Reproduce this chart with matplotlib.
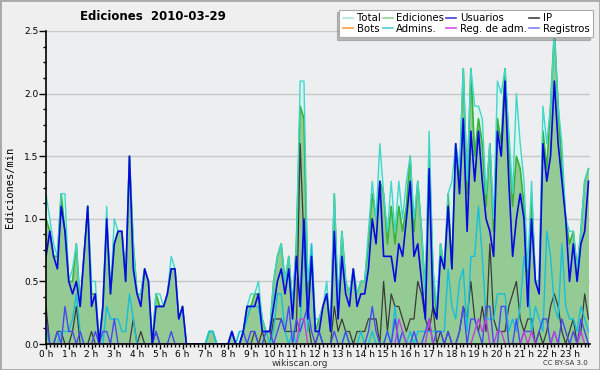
import numpy as np
import matplotlib
matplotlib.use("Agg")
import matplotlib.pyplot as plt
from matplotlib.lines import Line2D
from matplotlib.patches import Rectangle
from matplotlib.ticker import MultipleLocator, FormatStrFormatter

# edits per minute, one value per 10 minutes (6 per hour)
hour_labels = [f"{h} h" for h in range(24)]

total = [
    1.2, 1.0, 0.8, 0.7, 1.2, 1.2,  0.5, 0.6, 0.8, 0.3, 0.7, 1.1,
    0.5, 0.5, 0.0, 0.3, 1.1, 0.4,  1.0, 0.9, 0.9, 0.5, 1.5, 0.8,
    0.4, 0.4, 0.6, 0.5, 0.0, 0.4,  0.4, 0.3, 0.4, 0.7, 0.6, 0.2,
    0.3, 0.0, 0.0, 0.0, 0.0, 0.0,  0.0, 0.1, 0.1, 0.0, 0.0, 0.0,
    0.0, 0.1, 0.0, 0.1, 0.1, 0.3,  0.4, 0.4, 0.5, 0.2, 0.1, 0.1,
    0.5, 0.7, 0.8, 0.5, 0.7, 0.3,  0.8, 2.1, 2.1, 0.5, 0.8, 0.2,
    0.2, 0.3, 0.5, 0.1, 1.2, 0.3,  0.9, 0.5, 0.4, 0.6, 0.4, 0.5,
    0.5, 0.9, 1.3, 1.0, 1.6, 1.2,  0.9, 1.3, 0.9, 1.3, 1.0, 1.3,
    1.5, 1.0, 1.3, 0.9, 0.4, 1.7,  0.6, 0.3, 0.8, 0.6, 1.2, 1.3,
    1.6, 1.4, 2.2, 1.3, 2.2, 1.9,  1.9, 1.8, 1.2, 1.6, 1.0, 2.1,
    2.0, 2.2, 1.7, 1.2, 2.0, 1.6,  1.3, 0.6, 1.3, 0.5, 0.5, 1.9,
    1.6, 1.9, 2.5, 1.9, 1.6, 1.0,  0.9, 0.9, 0.6, 0.9, 1.3, 1.4,
]

ediciones = [
    1.0, 0.9, 0.7, 0.7, 1.2, 0.9,  0.5, 0.5, 0.8, 0.3, 0.7, 1.1,
    0.4, 0.4, 0.0, 0.3, 1.0, 0.4,  0.8, 0.9, 0.9, 0.5, 1.5, 0.8,
    0.4, 0.4, 0.6, 0.5, 0.0, 0.4,  0.3, 0.3, 0.4, 0.6, 0.6, 0.2,
    0.3, 0.0, 0.0, 0.0, 0.0, 0.0,  0.0, 0.1, 0.1, 0.0, 0.0, 0.0,
    0.0, 0.1, 0.0, 0.0, 0.1, 0.3,  0.3, 0.4, 0.4, 0.2, 0.1, 0.1,
    0.5, 0.7, 0.8, 0.5, 0.7, 0.3,  0.8, 1.9, 1.8, 0.4, 0.7, 0.1,
    0.2, 0.3, 0.4, 0.1, 1.2, 0.3,  0.9, 0.5, 0.4, 0.6, 0.4, 0.5,
    0.5, 0.8, 1.2, 1.0, 1.3, 1.2,  0.8, 1.1, 0.8, 1.1, 0.9, 1.1,
    1.5, 0.9, 1.3, 0.9, 0.4, 1.5,  0.6, 0.2, 0.8, 0.6, 1.2, 0.6,
    1.6, 1.3, 2.2, 1.2, 2.2, 1.5,  1.8, 1.6, 1.1, 1.6, 0.9, 1.8,
    1.6, 2.2, 1.6, 1.1, 1.5, 1.4,  1.1, 0.5, 1.2, 0.5, 0.5, 1.7,
    1.4, 1.9, 2.5, 1.9, 1.4, 1.0,  0.8, 0.9, 0.6, 0.9, 1.3, 1.4,
]

usuarios = [
    0.7, 0.9, 0.7, 0.6, 1.1, 0.9,  0.5, 0.4, 0.5, 0.3, 0.7, 1.1,
    0.3, 0.4, 0.0, 0.3, 1.0, 0.4,  0.8, 0.9, 0.9, 0.5, 1.5, 0.6,
    0.4, 0.3, 0.6, 0.5, 0.0, 0.3,  0.3, 0.3, 0.4, 0.6, 0.6, 0.2,
    0.3, 0.0, 0.0, 0.0, 0.0, 0.0,  0.0, 0.0, 0.0, 0.0, 0.0, 0.0,
    0.0, 0.1, 0.0, 0.0, 0.1, 0.3,  0.3, 0.3, 0.4, 0.1, 0.1, 0.1,
    0.3, 0.5, 0.6, 0.4, 0.6, 0.2,  0.7, 0.3, 1.0, 0.2, 0.7, 0.1,
    0.1, 0.3, 0.4, 0.1, 0.9, 0.2,  0.7, 0.4, 0.3, 0.6, 0.3, 0.4,
    0.4, 0.6, 1.0, 0.8, 1.3, 0.7,  0.7, 0.7, 0.5, 0.8, 0.7, 1.0,
    1.3, 0.7, 0.8, 0.5, 0.2, 1.4,  0.3, 0.2, 0.7, 0.6, 1.1, 0.6,
    1.6, 1.2, 1.8, 0.9, 1.7, 1.3,  1.7, 1.3, 1.0, 0.9, 0.7, 1.7,
    1.5, 2.1, 1.3, 0.7, 1.0, 1.2,  1.0, 0.3, 1.0, 0.5, 0.4, 1.6,
    1.3, 1.5, 2.1, 1.6, 1.3, 1.0,  0.5, 0.8, 0.5, 0.8, 0.9, 1.3,
]

ip = [
    0.3, 0.0, 0.0, 0.1, 0.1, 0.0,  0.0, 0.1, 0.3, 0.0, 0.0, 0.0,
    0.1, 0.0, 0.0, 0.0, 0.0, 0.0,  0.0, 0.0, 0.0, 0.0, 0.0, 0.2,
    0.0, 0.1, 0.0, 0.0, 0.0, 0.1,  0.0, 0.0, 0.0, 0.0, 0.0, 0.0,
    0.0, 0.0, 0.0, 0.0, 0.0, 0.0,  0.0, 0.0, 0.0, 0.0, 0.0, 0.0,
    0.0, 0.0, 0.0, 0.0, 0.0, 0.0,  0.0, 0.1, 0.0, 0.1, 0.0, 0.0,
    0.2, 0.2, 0.2, 0.1, 0.1, 0.1,  0.1, 1.6, 0.8, 0.2, 0.0, 0.0,
    0.1, 0.0, 0.0, 0.0, 0.3, 0.1,  0.2, 0.1, 0.1, 0.0, 0.1, 0.1,
    0.1, 0.2, 0.2, 0.2, 0.0, 0.5,  0.1, 0.4, 0.3, 0.3, 0.2, 0.1,
    0.2, 0.2, 0.5, 0.4, 0.2, 0.1,  0.3, 0.0, 0.1, 0.0, 0.1, 0.0,
    0.0, 0.1, 0.3, 0.2, 0.5, 0.2,  0.1, 0.3, 0.1, 0.8, 0.2, 0.1,
    0.1, 0.1, 0.3, 0.4, 0.5, 0.2,  0.1, 0.2, 0.2, 0.0, 0.1, 0.0,
    0.1, 0.3, 0.4, 0.3, 0.1, 0.0,  0.1, 0.2, 0.0, 0.1, 0.4, 0.2,
]

admins = [
    0.1, 0.0, 0.0, 0.0, 0.1, 0.1,  0.1, 0.2, 0.4, 0.1, 0.0, 0.0,
    0.0, 0.0, 0.0, 0.0, 0.3, 0.2,  0.2, 0.2, 0.1, 0.1, 0.4, 0.2,
    0.0, 0.0, 0.0, 0.0, 0.0, 0.0,  0.0, 0.0, 0.0, 0.0, 0.0, 0.0,
    0.0, 0.0, 0.0, 0.0, 0.0, 0.0,  0.0, 0.1, 0.1, 0.0, 0.0, 0.0,
    0.0, 0.0, 0.0, 0.1, 0.1, 0.2,  0.3, 0.3, 0.3, 0.1, 0.1, 0.0,
    0.1, 0.4, 0.4, 0.1, 0.0, 0.1,  0.0, 0.1, 1.0, 0.1, 0.8, 0.1,
    0.1, 0.0, 0.0, 0.0, 0.0, 0.0,  0.0, 0.1, 0.0, 0.0, 0.0, 0.1,
    0.0, 0.0, 0.1, 0.0, 0.0, 0.0,  0.1, 0.0, 0.3, 0.0, 0.1, 0.0,
    0.1, 0.0, 0.1, 0.1, 0.1, 0.1,  0.1, 0.1, 0.1, 0.1, 0.6, 0.3,
    0.2, 0.5, 0.6, 0.1, 0.7, 0.7,  1.1, 0.7, 0.2, 0.2, 0.2, 0.4,
    0.4, 0.4, 0.1, 0.2, 0.1, 0.3,  0.7, 0.5, 0.1, 0.3, 0.2, 0.1,
    0.9, 0.7, 0.3, 0.2, 0.8, 0.3,  0.2, 0.2, 0.1, 0.3, 0.2, 0.1,
]

registros = [
    0.2, 0.0, 0.0, 0.1, 0.0, 0.3,  0.1, 0.1, 0.0, 0.1, 0.0, 0.0,
    0.0, 0.1, 0.0, 0.1, 0.1, 0.0,  0.2, 0.0, 0.0, 0.0, 0.0, 0.0,
    0.0, 0.0, 0.0, 0.0, 0.0, 0.1,  0.0, 0.0, 0.0, 0.1, 0.0, 0.0,
    0.0, 0.0, 0.0, 0.0, 0.0, 0.0,  0.0, 0.0, 0.0, 0.0, 0.0, 0.0,
    0.0, 0.1, 0.0, 0.0, 0.1, 0.0,  0.1, 0.1, 0.0, 0.0, 0.1, 0.1,
    0.0, 0.1, 0.2, 0.1, 0.3, 0.0,  0.2, 0.1, 0.2, 0.3, 0.1, 0.0,
    0.1, 0.0, 0.0, 0.0, 0.1, 0.0,  0.0, 0.1, 0.0, 0.0, 0.0, 0.0,
    0.0, 0.1, 0.3, 0.1, 0.0, 0.0,  0.1, 0.0, 0.2, 0.0, 0.1, 0.0,
    0.0, 0.1, 0.0, 0.0, 0.1, 0.2,  0.0, 0.1, 0.1, 0.0, 0.1, 0.0,
    0.0, 0.1, 0.3, 0.0, 0.2, 0.2,  0.1, 0.0, 0.3, 0.3, 0.0, 0.0,
    0.3, 0.3, 0.0, 0.0, 0.2, 0.0,  0.1, 0.1, 0.1, 0.0, 0.1, 0.2,
    0.2, 0.0, 0.1, 0.0, 0.2, 0.1,  0.0, 0.1, 0.0, 0.2, 0.1, 0.0,
]

reg_adm = [
    0.0, 0.0, 0.0, 0.0, 0.0, 0.0,  0.0, 0.0, 0.0, 0.0, 0.0, 0.0,
    0.0, 0.0, 0.0, 0.0, 0.0, 0.0,  0.0, 0.0, 0.0, 0.0, 0.0, 0.0,
    0.0, 0.0, 0.0, 0.0, 0.0, 0.0,  0.0, 0.0, 0.0, 0.0, 0.0, 0.0,
    0.0, 0.0, 0.0, 0.0, 0.0, 0.0,  0.0, 0.0, 0.0, 0.0, 0.0, 0.0,
    0.0, 0.0, 0.0, 0.0, 0.0, 0.0,  0.0, 0.0, 0.0, 0.0, 0.0, 0.0,
    0.0, 0.0, 0.0, 0.0, 0.0, 0.0,  0.0, 0.2, 0.2, 0.0, 0.0, 0.0,
    0.0, 0.0, 0.0, 0.0, 0.0, 0.0,  0.0, 0.0, 0.0, 0.0, 0.0, 0.0,
    0.0, 0.0, 0.0, 0.0, 0.0, 0.0,  0.0, 0.0, 0.0, 0.2, 0.1, 0.0,
    0.0, 0.0, 0.0, 0.0, 0.0, 0.2,  0.0, 0.0, 0.0, 0.0, 0.0, 0.0,
    0.0, 0.0, 0.0, 0.0, 0.0, 0.1,  0.2, 0.1, 0.2, 0.0, 0.0, 0.1,
    0.1, 0.0, 0.0, 0.0, 0.0, 0.0,  0.1, 0.0, 0.1, 0.0, 0.0, 0.0,
    0.0, 0.0, 0.1, 0.0, 0.0, 0.0,  0.0, 0.0, 0.0, 0.1, 0.0, 0.0,
]

# no bot edits that day
bots = [0.0] * 144

t = np.arange(len(total)) / 6.0

fig = plt.figure(figsize=(6, 3.7), dpi=100, facecolor="#efefef")
ax = fig.add_axes([46 / 600, 26 / 370, 544 / 600, 313 / 370])
ax.set_facecolor("#eceef0")

ax.fill_between(t, total, color="#d9f5ee", lw=0)
ax.fill_between(t, ediciones, color="#94cb94", lw=0)
ax.plot(t, ediciones, color="#36b236", lw=1.2)
ax.plot(t, total, color="#40d6cc", lw=1.0)
ax.plot(t, bots, color="#ff9a30", lw=0.9)
ax.plot(t, ip, color="#3a3a3a", lw=0.9)
ax.plot(t, admins, color="#14c0dc", lw=1.0)
ax.plot(t, registros, color="#4848f2", lw=1.0)
ax.plot(t, reg_adm, color="#c040e0", lw=1.0)
ax.plot(t, usuarios, color="#0808e0", lw=1.2)

ax.set_xlim(0, 23.9)
ax.set_ylim(0, 2.5)
ax.set_xticks(range(24))
ax.set_xticklabels(hour_labels)
ax.xaxis.set_minor_locator(MultipleLocator(1 / 6))
ax.yaxis.set_major_locator(MultipleLocator(0.5))
ax.yaxis.set_minor_locator(MultipleLocator(0.125))
ax.yaxis.set_major_formatter(FormatStrFormatter("%.1f"))
ax.tick_params(axis="both", which="major", labelsize=6.5, length=5, width=1, color="black", pad=0.5)
ax.tick_params(axis="x", which="major", length=3.5)
ax.tick_params(axis="both", which="minor", length=2.5, width=1)
ax.grid(axis="y", which="major", color="#c8c8c8", lw=1)
ax.set_axisbelow(True)
for side in ("top", "right"):
    ax.spines[side].set_visible(False)
ax.spines["left"].set_linewidth(1.2)
ax.spines["bottom"].set_linewidth(1.2)

# legend (column-major order so it reads row-wise like the original)
labels = ["Total", "Bots", "Ediciones", "Admins.", "Usuarios", "Reg. de adm.", "IP", "Registros"]
colors = ["#ace8e2", "#ffa040", "#94d894", "#50cce0", "#4040e0", "#d050e0", "#404040", "#8080f0"]
handles = [Line2D([], [], color=c, lw=1.2) for c in colors]
leg = fig.legend(handles, labels, ncol=4, loc="upper right", bbox_to_anchor=(0.988, 0.974),
                 fontsize=7.3, frameon=True, fancybox=False, framealpha=1,
                 shadow={"ox": -2, "oy": -2, "shade": 0.5},
                 handlelength=1.0, handletextpad=0.35, columnspacing=0.2,
                 labelspacing=0.05, borderpad=0.35, borderaxespad=0)
leg.get_frame().set_edgecolor("#aaaaaa")
leg.get_frame().set_linewidth(0.8)

fig.text(153 / 600, 1 - 17 / 370, "Ediciones  2010-03-29", ha="center", va="center",
         fontsize=8.5, fontweight="bold")
fig.text(10 / 600, 1 - 187 / 370, "Ediciones/min", rotation=90, ha="center", va="center",
         fontsize=7.5, family="DejaVu Sans Mono")
fig.text(0.5, 1 - 363 / 370, "wikiscan.org", ha="center", va="center", fontsize=6.5, color="#333333")
fig.text(588 / 600, 1 - 363 / 370, "CC BY-SA 3.0", ha="right", va="center", fontsize=5, color="#333333")

fig.patches.append(Rectangle((0, 0), 1, 1, transform=fig.transFigure, fill=False,
                             edgecolor="#a8a8a8", lw=2))

fig.savefig("out.png", dpi=100, facecolor=fig.get_facecolor())
